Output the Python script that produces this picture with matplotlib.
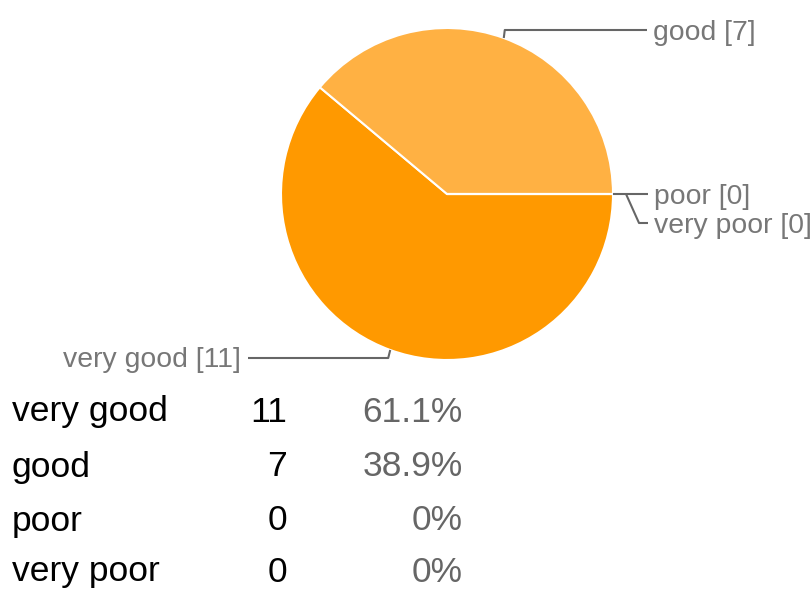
import numpy as np
from matplotlib import pyplot as plt

plt.rcParams['font.family'] = ['Liberation Sans', 'DejaVu Sans']

#--- Data
categories = ['very good', 'good', 'poor', 'very poor']
counts = [11, 7, 0, 0]
colors = ['#FF9900', '#FFB143', '#FFC878', '#FFD9A0']

total = sum(counts)
percents = [100.0 * c / total for c in counts]

def fmt_pct(p):
    if p == 0:
        return '0%'
    return f'{p:.1f}%'

#--- Figure in pixel coordinates (y down)
W, H = 812, 590
fig = plt.figure(figsize=(W / 100, H / 100), dpi=100)
ax = fig.add_axes([0, 0, 1, 1])

cx, cy, r = 447, 194, 166

wedges, _ = ax.pie(
    counts,
    colors=colors,
    startangle=0,
    counterclock=True,
    center=(cx, cy),
    radius=r,
    frame=True,
    wedgeprops=dict(edgecolor='white', linewidth=1.5),
)
ax.set_xlim(0, W)
ax.set_ylim(H, 0)
ax.set_aspect('equal')
ax.axis('off')

def anchor(w):
    mid = np.deg2rad((w.theta1 + w.theta2) / 2)
    return cx + r * np.cos(mid), cy + r * np.sin(mid)

line_kw = dict(color='#666666', lw=1.5, solid_capstyle='butt')
lab_kw = dict(color='#777777', fontsize=20.4, va='center')

#--- very good label (bottom left)
ax0, ay0 = anchor(wedges[0])
ax.plot([ax0, ax0 - 2, 248], [ay0, 358, 358], **line_kw)
ax.text(241, 360, f'{categories[0]} [{counts[0]}]', ha='right', **lab_kw)

#--- good label (top right)
ax1, ay1 = anchor(wedges[1])
ax.plot([ax1, ax1 + 1, 647], [ay1, 30, 30], **line_kw)
ax.text(653, 33, f'{categories[1]} [{counts[1]}]', ha='left', **lab_kw)

#--- poor / very poor labels (zero slices at the right edge)
ax2, ay2 = anchor(wedges[2])
ax.plot([ax2, 648], [ay2, ay2], **line_kw)
ax.text(654, 197, f'{categories[2]} [{counts[2]}]', ha='left', **lab_kw)
ax.plot([ax2 + 13, 639, 648], [ay2, 223, 223], **line_kw)
ax.text(654, 226, f'{categories[3]} [{counts[3]}]', ha='left', **lab_kw)

#--- Table under the chart
row_y = [412, 467, 521, 572]
for i in range(len(categories)):
    ax.text(12, row_y[i], categories[i], ha='left', va='center',
            fontsize=25.5, color='black')
    ax.text(287, row_y[i], str(counts[i]), ha='right', va='center',
            fontsize=25.5, color='black')
    ax.text(463, row_y[i], fmt_pct(percents[i]), ha='right', va='center',
            fontsize=25.5, color='#666666')

fig.savefig('out.png', dpi=100)
